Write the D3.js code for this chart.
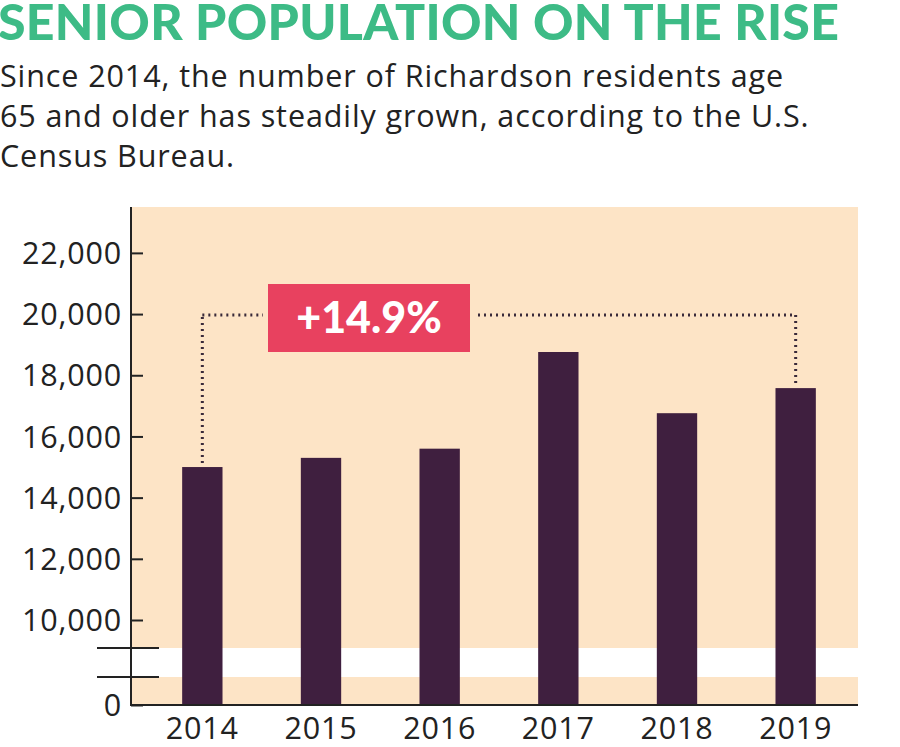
<!DOCTYPE html>
<html><head><meta charset="utf-8">
<script src="https://cdn.jsdelivr.net/npm/d3@7"></script>
<style>
body{margin:0;background:#fff;}
svg{display:block;}
</style></head>
<body><svg id="c" width="900" height="747"></svg>
<script>
// data
const years = ["2014", "2015", "2016", "2017", "2018", "2019"];
const seniors = [15000, 15300, 15600, 18760, 16760, 17580];
const tickValues = [0, 10000, 12000, 14000, 16000, 18000, 20000, 22000];
const changeLabel = "+14.9%";

const svg = d3.select("#c");
const L = 131, R = 858, T = 207, B = 705;

// broken axis: 0..10000 compressed into the bottom
const y = d3.scaleLinear().domain([0, 10000, 23500]).range([B, 620, T]);
const x = d3.scaleBand().domain(years).range([143, 855]).paddingInner(0.66).paddingOuter(0.33);

svg.append("text").attr("x", -2).attr("y", 40)
  .attr("font-family", "Lato").attr("font-weight", 900).attr("font-size", 50)
  .attr("fill", "#3dbb86").attr("letter-spacing", 0.3)
  .text("SENIOR POPULATION ON THE RISE");

["Since 2014, the number of Richardson residents age",
 "65 and older has steadily grown, according to the U.S.",
 "Census Bureau."].forEach((t, i) => {
  svg.append("text").attr("x", 0).attr("y", 87 + i * 40)
    .attr("font-family", "Open Sans").attr("font-size", 30.5).attr("letter-spacing", 0.9)
    .attr("fill", "#222").text(t);
});

svg.append("rect").attr("x", L).attr("y", T).attr("width", R - L).attr("height", B - T).attr("fill", "#fde4c6");
// break band
svg.append("rect").attr("x", L).attr("y", 648).attr("width", R - L).attr("height", 29).attr("fill", "#fff");

svg.selectAll("rect.bar").data(seniors).join("rect").attr("class", "bar")
  .attr("x", (d, i) => x(years[i])).attr("width", x.bandwidth())
  .attr("y", d => y(d)).attr("height", d => B - y(d)).attr("fill", "#3f1f3f");

const ax = svg.append("g").attr("transform", `translate(${L},0)`)
  .call(d3.axisLeft(y).tickValues(tickValues).tickFormat(d3.format(",")).tickSize(-12).tickPadding(4));
ax.select(".domain").remove();
ax.selectAll("line").attr("stroke", "#222").attr("stroke-width", 2);
ax.selectAll("text").attr("font-family", "Open Sans").attr("font-size", 30.5).attr("letter-spacing", 0.8)
  .attr("fill", "#222").attr("dy", "0.35em").attr("x", -9);

svg.append("line").attr("x1", L).attr("x2", L).attr("y1", T).attr("y2", B).attr("stroke", "#222").attr("stroke-width", 2);
svg.append("line").attr("x1", L - 1).attr("x2", R).attr("y1", B).attr("y2", B).attr("stroke", "#222").attr("stroke-width", 2);
[648, 677].forEach(v => svg.append("line").attr("x1", 97).attr("x2", 159).attr("y1", v).attr("y2", v).attr("stroke", "#222").attr("stroke-width", 2));

const xa = svg.append("g").attr("transform", `translate(0,${B})`).call(d3.axisBottom(x).tickSize(0).tickPadding(12));
xa.select(".domain").remove();
xa.selectAll("text").attr("font-family", "Open Sans").attr("font-size", 30.5).attr("letter-spacing", 0.8).attr("fill", "#222");

// change annotation
const ly = 315;
const x0 = x(years[0]) + x.bandwidth() / 2, x1 = x(years[5]) + x.bandwidth() / 2;
const dots = {stroke: "#3a2a3a", "stroke-width": 3, "stroke-dasharray": "2 4"};
function dl(a, b, c, d) {
  const l = svg.append("line").attr("x1", a).attr("y1", b).attr("x2", c).attr("y2", d);
  Object.entries(dots).forEach(([k, v]) => l.attr(k, v));
}
dl(x0, y(seniors[0]) - 4, x0, ly);
dl(x0, ly, 263, ly);
dl(478, ly, x1, ly);
dl(x1, ly, x1, y(seniors[5]) - 4);
svg.append("rect").attr("x", 268).attr("y", 284).attr("width", 202).attr("height", 68).attr("fill", "#e8415f");
svg.append("text").attr("x", 369).attr("y", 333).attr("text-anchor", "middle")
  .attr("font-family", "Lato").attr("font-weight", 900).attr("font-size", 43).attr("fill", "#fff").text(changeLabel);
</script></body></html>
